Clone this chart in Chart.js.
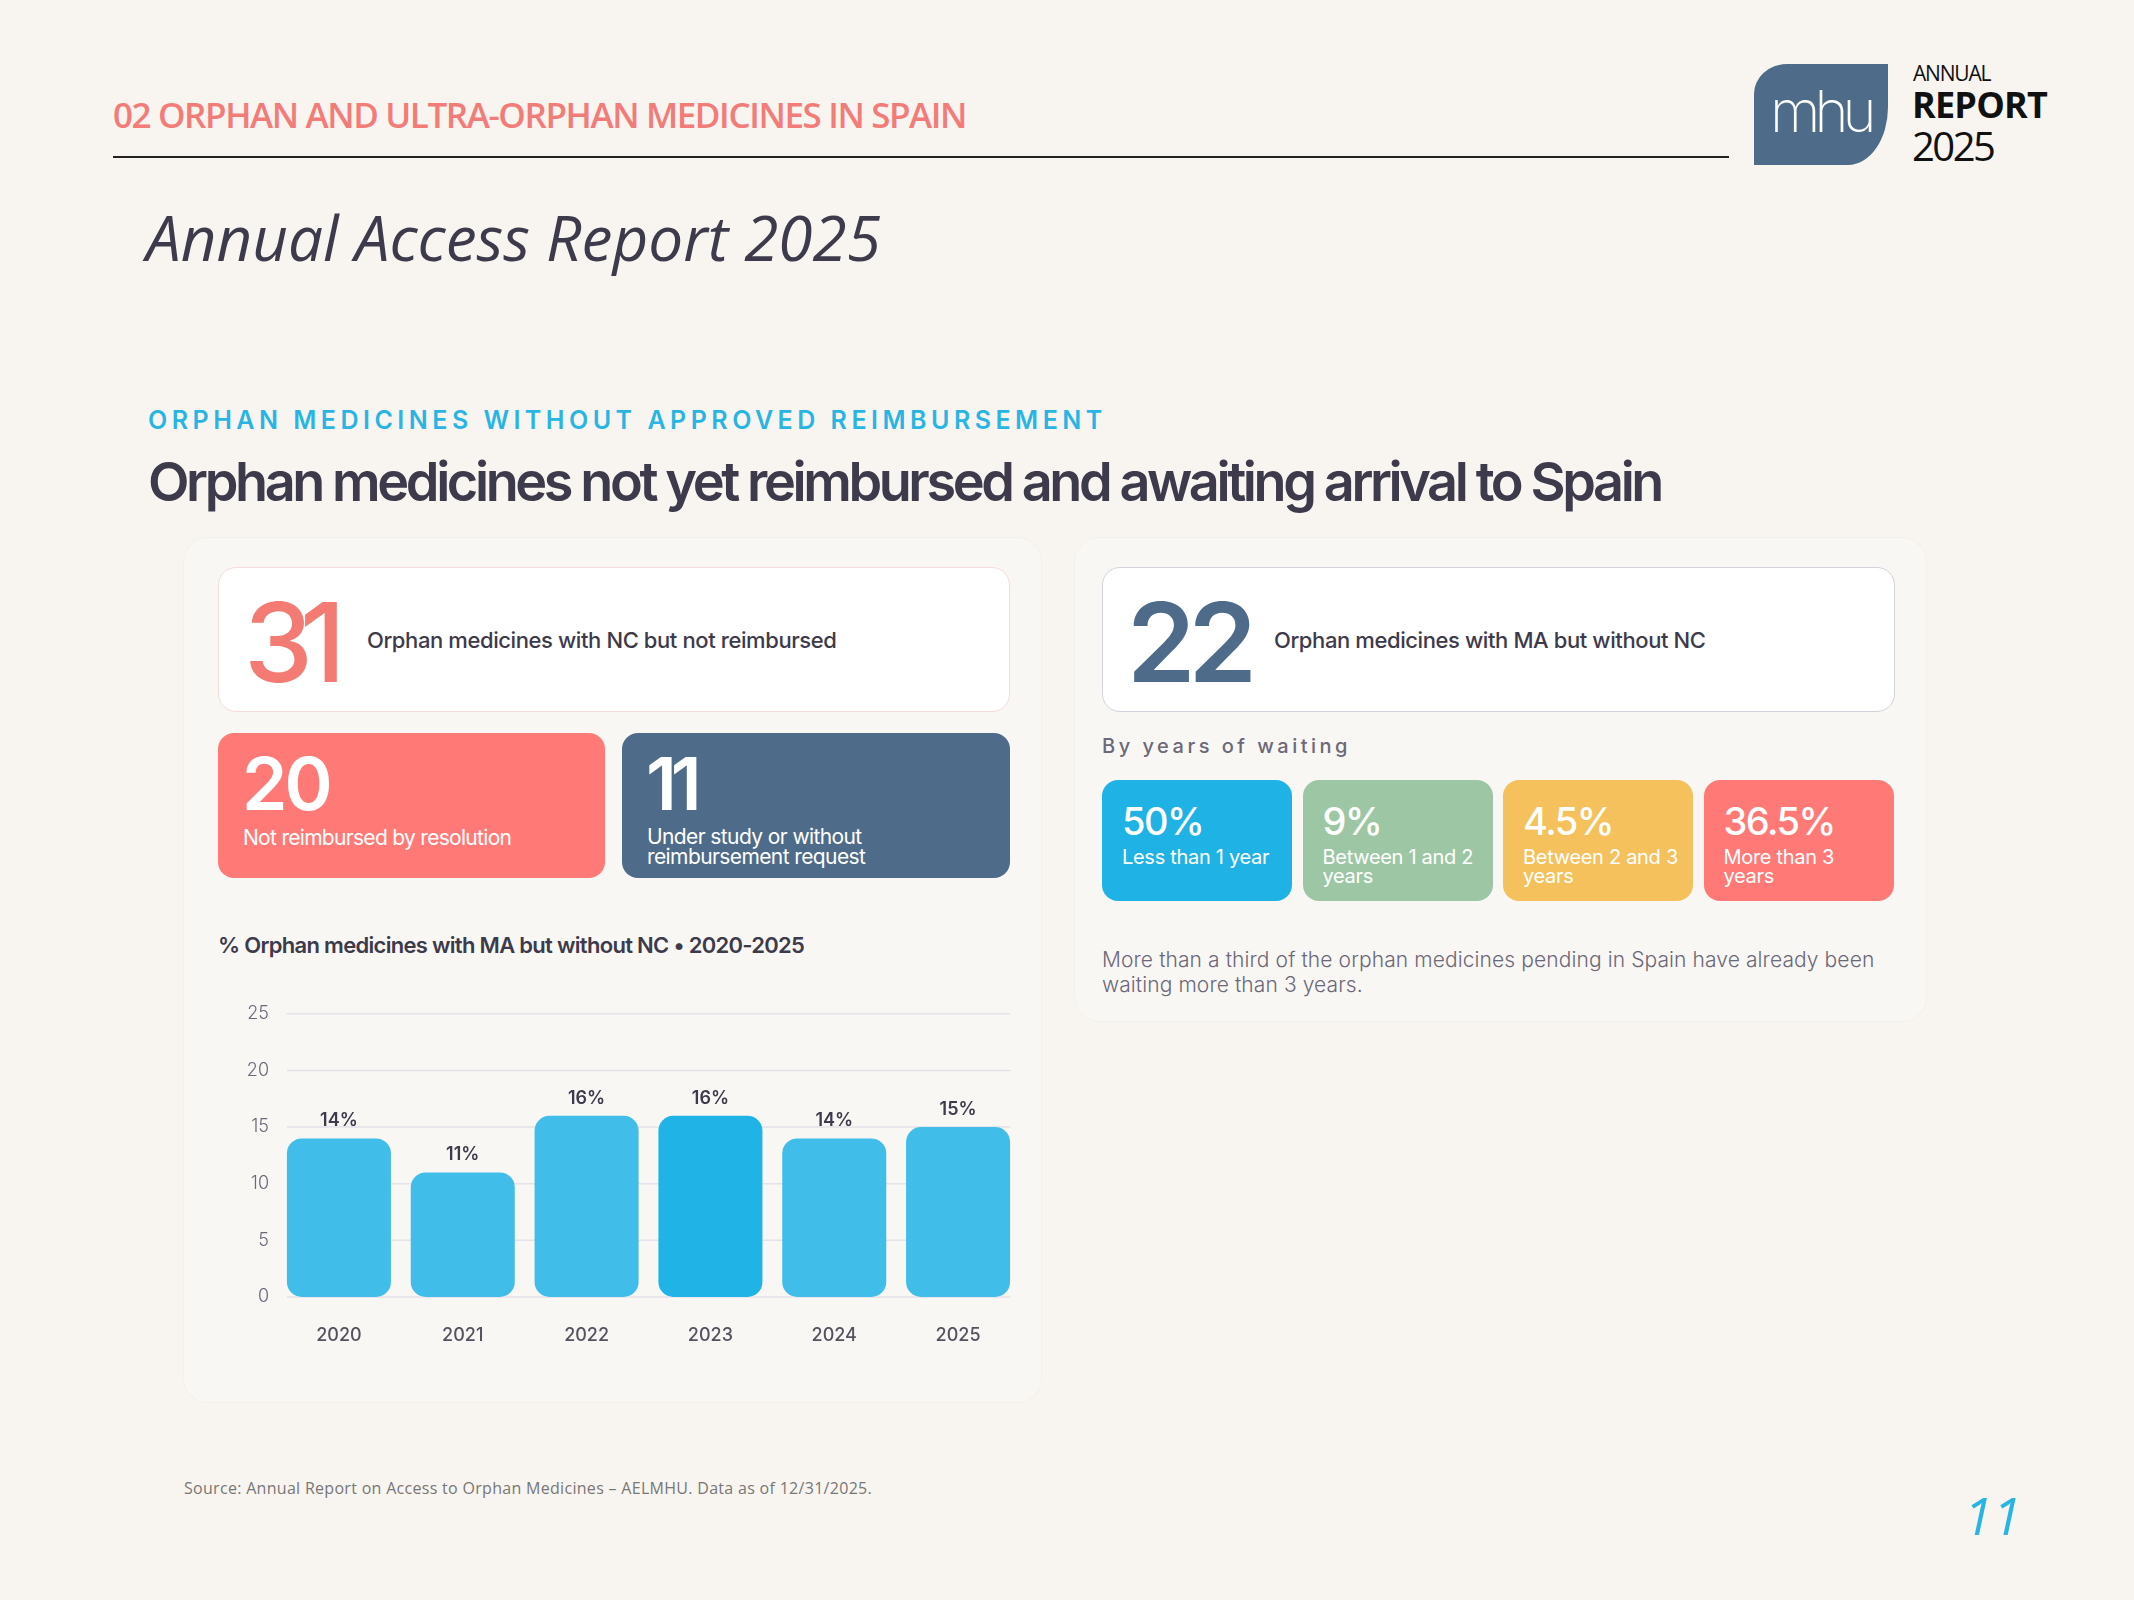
<!DOCTYPE html>
<html>
<head>
<meta charset="utf-8">
<title>Annual Access Report 2025</title>
<script src="https://cdn.jsdelivr.net/npm/chart.js@4.4.1/dist/chart.umd.min.js"></script>
<style>
    html, body { margin: 0; padding: 0; }
    body {
        width: 2134px; height: 1600px; position: relative; overflow: hidden;
        background: #f8f5f0; font-family: 'Inter', sans-serif; color: #3d3a4b;
    }
    .abs { position: absolute; line-height: 1; white-space: nowrap; }
    .os { font-family: 'Open Sans', sans-serif; }
    .panel { position: absolute; background: #f9f7f4; border-radius: 24px; box-shadow: 0 0 0 1px rgba(0,0,0,0.018); }
    .card { position: absolute; background: #fff; border-radius: 18px; box-sizing: border-box; }
    .box { position: absolute; border-radius: 16px; color: #fff; }
    .tile { position: absolute; top: 780px; width: 190px; height: 121px; border-radius: 16px; color: #fff; }
    .tile .pct { position: absolute; left: 20px; top: 22px; font-size: 38px; font-weight: 500; letter-spacing: -1.5px; line-height: 1; }
    .tile .lbl { position: absolute; left: 20px; top: 68px; font-size: 20px; line-height: 19px; font-weight: 400; letter-spacing: -0.3px; width: 165px; }
</style>
</head>
<body>

<!-- Cabecera -->
<div class="abs os" style="left:113px; top:97px; font-size:35px; font-weight:600; color:#f37b78; letter-spacing:-1.4px;">02 ORPHAN AND ULTRA-ORPHAN MEDICINES IN SPAIN</div>
<div class="abs" style="left:113px; top:156px; width:1616px; height:2px; background:#222;"></div>
<div class="abs os" style="left:146px; top:206px; font-size:62px; font-style:italic; color:#3d3b4b; letter-spacing:0px;">Annual Access Report 2025</div>

<!-- Logo -->
<div class="abs" style="left:1754px; top:64px; width:134px; height:101px; background:#4e6b89; border-radius:33px 0 40px 0 / 30px 0 58px 0;"></div>
<div class="abs" style="left:1770px; top:82px; font-size:58px; font-weight:200; color:#fff; letter-spacing:-6px;">mhu</div>
<div class="abs os" style="left:1913px; top:63px; font-size:21px; color:#111; letter-spacing:-1.2px;">ANNUAL</div>
<div class="abs os" style="left:1912px; top:87px; font-size:36px; font-weight:700; color:#111; letter-spacing:-0.8px;">REPORT</div>
<div class="abs os" style="left:1912px; top:126px; font-size:40px; color:#111; letter-spacing:-2.5px;">2025</div>

<!-- Titulos -->
<div class="abs" style="left:148px; top:408px; font-size:25px; font-weight:600; color:#29b5e3; letter-spacing:4.5px;">ORPHAN MEDICINES WITHOUT APPROVED REIMBURSEMENT</div>
<div class="abs" style="left:148px; top:455px; font-size:54px; font-weight:600; color:#3d3a4b; letter-spacing:-3.4px;">Orphan medicines not yet reimbursed and awaiting arrival to Spain</div>

<!-- Paneles -->
<div class="panel" style="left:184px; top:538px; width:857px; height:864px;"></div>
<div class="panel" style="left:1075px; top:538px; width:851px; height:483px;"></div>

<!-- Panel izquierdo -->
<div class="card" style="left:218px; top:567px; width:792px; height:145px; border:1.5px solid #f5dcdb;"></div>
<div class="abs" id="kpi-nc" style="left:244px; top:587px; font-size:110px; font-weight:500; color:#f47a74; letter-spacing:-13px;"></div>
<div class="abs" style="left:367px; top:629px; font-size:22px; font-weight:500; letter-spacing:-0.4px;">Orphan medicines with NC but not reimbursed</div>

<div class="box" style="left:218px; top:733px; width:387px; height:145px; background:#ff7a76;"></div>
<div class="abs" id="kpi-res" style="left:242px; top:747px; font-size:73px; font-weight:600; color:#fff; letter-spacing:-3px;"></div>
<div class="abs" style="left:243px; top:827px; font-size:21px; color:#fff; letter-spacing:-0.7px;">Not reimbursed by resolution</div>

<div class="box" style="left:622px; top:733px; width:388px; height:145px; background:#4e6b89;"></div>
<div class="abs" id="kpi-study" style="left:646px; top:747px; font-size:73px; font-weight:600; color:#fff; letter-spacing:-6px;"></div>
<div class="abs" style="left:647px; top:827px; font-size:21px; line-height:20px; color:#fff; letter-spacing:-0.6px;">Under study or without<br>reimbursement request</div>

<div class="abs" style="left:218px; top:934px; font-size:22px; font-weight:600; letter-spacing:-0.7px;">% Orphan medicines with MA but without NC • 2020-2025</div>

<div style="position:absolute; left:218px; top:995px; width:802px; height:365px;">
    <canvas id="maChart" width="802" height="365"></canvas>
</div>

<!-- Panel derecho -->
<div class="card" style="left:1102px; top:567px; width:793px; height:145px; border:1.5px solid #d3d3dd;"></div>
<div class="abs" id="kpi-ma" style="left:1127px; top:587px; font-size:110px; font-weight:600; color:#4e6b89; letter-spacing:-7px;"></div>
<div class="abs" style="left:1274px; top:629px; font-size:22px; font-weight:500; letter-spacing:-0.4px;">Orphan medicines with MA but without NC</div>

<div class="abs" style="left:1102px; top:736px; font-size:20px; font-weight:500; color:#6b6878; letter-spacing:3.5px;">By years of waiting</div>
<div id="tiles"></div>

<div class="abs" style="left:1102px; top:947px; font-size:21px; line-height:25px; font-weight:300; color:#6b6878; letter-spacing:0.1px;">More than a third of the orphan medicines pending in Spain have already been<br>waiting more than 3 years.</div>

<!-- Pie -->
<div class="abs os" style="left:184px; top:1480px; font-size:16px; color:#777; letter-spacing:0.3px;">Source: Annual Report on Access to Orphan Medicines – AELMHU. Data as of 12/31/2025.</div>
<div class="abs os" style="left:1964px; top:1489px; font-size:52px; font-style:italic; color:#29b5e3;">11</div>

<script>
    // Datos del grafico
    var years = ['2020', '2021', '2022', '2023', '2024', '2025'];
    var pctWithoutNC = [14, 11, 16, 16, 14, 15];
    var yTickValues = [0, 5, 10, 15, 20, 25];
    var highlightYear = '2023';

    // Cifras de las tarjetas
    var kpiValues = { nc: 31, res: 20, study: 11, ma: 22 };
    var waitingShares = [50, 9, 4.5, 36.5];
    var waitingLabels = ['Less than 1 year', 'Between 1 and 2 years', 'Between 2 and 3 years', 'More than 3 years'];
    var tileColors = ['#1fb3e5', '#9dc7a4', '#f5c15c', '#ff7a76'];

    document.getElementById('kpi-nc').textContent = kpiValues.nc;
    document.getElementById('kpi-res').textContent = kpiValues.res;
    document.getElementById('kpi-study').textContent = kpiValues.study;
    document.getElementById('kpi-ma').textContent = kpiValues.ma;

    // Tarjetas por años de espera
    var tilesHtml = '';
    for (var i = 0; i < waitingShares.length; i++) {
        var left = 1102 + i * 200.5;
        tilesHtml += '<div class="tile" style="left:' + left + 'px; background:' + tileColors[i] + ';">' +
            '<div class="pct">' + waitingShares[i] + '%</div>' +
            '<div class="lbl">' + waitingLabels[i] + '</div></div>';
    }
    document.getElementById('tiles').innerHTML = tilesHtml;

    // Rejilla horizontal solo bajo las barras (de la primera a la ultima)
    var barGrid = {
        id: 'barGrid',
        beforeDatasetsDraw: function(chart) {
            var ctx = chart.ctx;
            var meta = chart.getDatasetMeta(0);
            var first = meta.data[0], last = meta.data[meta.data.length - 1];
            var x0 = first.x - first.width / 2;
            var x1 = last.x + last.width / 2;
            var yScale = chart.scales.y;
            ctx.save();
            ctx.strokeStyle = '#e4e2ea';
            ctx.lineWidth = 1.5;
            yTickValues.forEach(function(v) {
                var y = yScale.getPixelForValue(v);
                ctx.beginPath();
                ctx.moveTo(x0, y);
                ctx.lineTo(x1, y);
                ctx.stroke();
            });
            ctx.restore();
        }
    };

    // Etiquetas encima de cada barra
    var barLabels = {
        id: 'barLabels',
        afterDatasetsDraw: function(chart) {
            var ctx = chart.ctx;
            var meta = chart.getDatasetMeta(0);
            ctx.save();
            ctx.font = '600 18px Inter';
            ctx.fillStyle = '#3d3a4b';
            ctx.textAlign = 'center';
            ctx.textBaseline = 'alphabetic';
            meta.data.forEach(function(bar, idx) {
                ctx.fillText(pctWithoutNC[idx] + '%', bar.x, bar.y - 12);
            });
            ctx.restore();
        }
    };

    var colors = years.map(function(y) {
        return y === highlightYear ? '#1fb4e5' : '#41bde9';
    });

    new Chart(document.getElementById('maChart'), {
        type: 'bar',
        data: {
            labels: years,
            datasets: [{
                label: '% MA without NC',
                data: pctWithoutNC,
                backgroundColor: colors,
                borderWidth: 0,
                borderRadius: 15,
                borderSkipped: false,
                categoryPercentage: 1,
                barPercentage: 0.84
            }]
        },
        options: {
            responsive: false,
            animation: false,
            devicePixelRatio: 1,
            layout: { padding: { top: 7, right: 0 } },
            plugins: {
                legend: { display: false },
                tooltip: { enabled: false }
            },
            scales: {
                x: {
                    grid: { display: false, drawTicks: false },
                    border: { display: false },
                    ticks: { padding: 28, color: '#55525f', font: { family: 'Inter', size: 18, weight: 500 } },
                    afterFit: function(scale) { scale.height = 63; }
                },
                y: {
                    min: 0,
                    max: 25,
                    afterBuildTicks: function(scale) {
                        scale.ticks = yTickValues.map(function(v) { return { value: v }; });
                    },
                    grid: { display: false, drawTicks: false },
                    border: { display: false },
                    ticks: { padding: 8, color: '#6b6878', font: { family: 'Inter', size: 18, weight: 300 } },
                    afterFit: function(scale) { scale.width = 59; }
                }
            }
        },
        plugins: [barGrid, barLabels]
    });
</script>
</body>
</html>
